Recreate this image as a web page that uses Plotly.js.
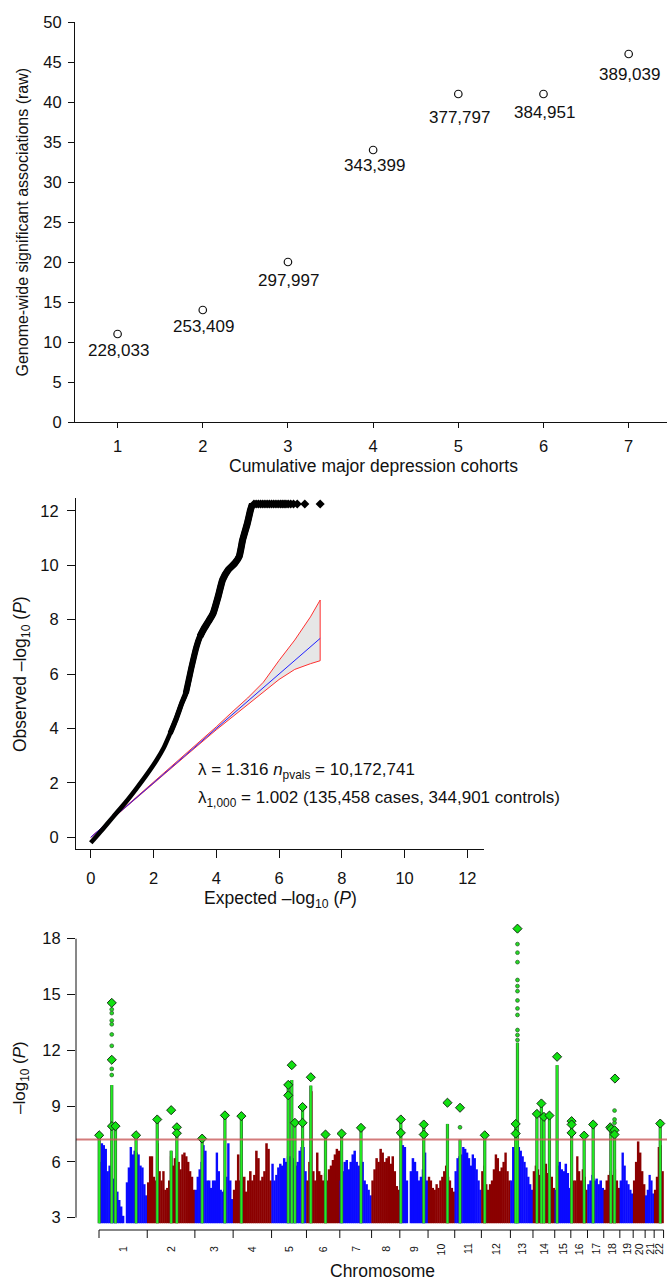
<!DOCTYPE html>
<html>
<head>
<meta charset="utf-8">
<script src="https://cdn.plot.ly/plotly-3.0.1.min.js"></script>
<style>html,body{margin:0;padding:0;background:#fff;overflow:hidden;}#chart{width:667px;height:1280px;}</style>
</head>
<body>
<div id="chart"></div>
<script>
// ---------- Panel 1: cumulative cohorts ----------
const cohorts = [1, 2, 3, 4, 5, 6, 7];
const associations = [11, 14, 20, 34, 41, 41, 46];
const sampleSizes = ['228,033', '253,409', '297,997', '343,399', '377,797', '384,951', '389,039'];

// ---------- Panel 2: QQ plot ----------
const qqExpected = [0, 0.36, 0.72, 1.1, 1.46, 1.8, 2.1, 2.33, 2.53, 2.72, 2.9, 3.03, 3.2, 3.37, 3.48, 3.6, 3.75, 3.9, 4.06, 4.2, 4.38, 4.59, 4.73, 4.84, 4.99, 5.09, 5.15];
const qqObserved = [-0.2, 0.27, 0.76, 1.27, 1.8, 2.33, 2.84, 3.3, 3.82, 4.35, 4.93, 5.3, 6.2, 7.01, 7.38, 7.65, 7.93, 8.23, 8.85, 9.46, 9.83, 10.07, 10.32, 10.93, 11.54, 12.03, 12.25];
const qqCappedExpected = [5.2, 5.27, 5.34, 5.41, 5.48, 5.55, 5.62, 5.69, 5.76, 5.83, 5.9, 5.97, 6.04, 6.1, 6.16, 6.22, 6.29, 6.37, 6.46, 6.58, 6.82, 7.31];
const qqCappedObserved = [12.25, 12.25, 12.25, 12.25, 12.25, 12.25, 12.25, 12.25, 12.25, 12.25, 12.25, 12.25, 12.25, 12.25, 12.25, 12.25, 12.25, 12.25, 12.25, 12.25, 12.25, 12.25];
const nullLine = [0, 7.31];
const bandExpected = [0, 1, 2, 3, 4, 4.5, 5, 5.5, 6, 6.5, 7, 7.31];
const bandUpper = [0, 1.01, 2.02, 3.03, 4.06, 4.6, 5.12, 5.7, 6.5, 7.25, 8.1, 8.72];
const bandLower = [0, 0.99, 1.98, 2.97, 3.95, 4.42, 4.87, 5.33, 5.8, 6.17, 6.38, 6.49];

// ---------- Panel 3: Manhattan plot ----------
const chrNames = ['1','2','3','4','5','6','7','8','9','10','11','12','13','14','15','16','17','18','19','20','21','22'];
const chrLen = [246, 243, 195, 196, 178, 170, 162, 144, 144, 136, 136, 148, 115, 111, 82, 85, 83, 82, 68, 61, 46, 48];
const pointFloor = 2.7;
const genomeWideLine = 7.2;
const chr1Peaks = [6.0, 7.0, 6.9, 6.7, 5.5, 5.8, 5.3, 5.1, 4.9, 4.4, 3.95, 3.6, 3.1, null, 4.9, 5.7, 6.8, 6.4, 6.6, 6.5, 6.4, 5.8, 5.7, 4.8, 4.2];
const chr2Peaks = [4.9, 6.3, 6.3, 5.2, 5.0, 7.0, 5.5, 5.0, 5.5, 4.5, 4.6, 5.0, 6.3, 5.8, 6.2, 6.3, 6.0, 5.6, 6.4, 6.5, 6.3, 6.0, 5.5, 5.2, 4.5];
const chr3Peaks = [4.5, 5.2, 5.6, 6.0, 6.9, 6.6, 5.0, 5.0, 4.6, 5.0, 5.0, 6.5, 5.5, 4.5, 4.4, 4.5, 5.2, 7.0, 5.0, 4.0];
const chr4Peaks = [4.5, 5.0, 6.4, 5.0, 4.6, 5.2, 4.4, 5.0, 5.5, 5.0, 5.3, 6.6, 6.2, 5.0, 5.2, 5.5, 7.0, 6.7, 5.0];
const chr5Peaks = [5.9, 5.0, 5.3, 5.7, 5.9, 5.8, 6.2, 6.0, 6.3, 6.3, 5.5, 6.2, 5.8, 6.0, 6.6, 6.8, 6.8, 5.5];
const chr6Peaks = [5.0, 6.0, 9.8, 5.5, 5.0, 6.5, 5.5, 5.3, 5.0, 5.4, 5.0, 5.6, 5.8, 6.1, 6.4, 6.7, 6.6];
const chr7Peaks = [5.0, 5.5, 6.0, 6.1, 5.6, 6.0, 6.4, 6.6, 6.0, 5.8, 5.5, 6.0, 5.0, 4.8, 4.5, 4.2];
const chr8Peaks = [5.0, 5.6, 6.2, 6.0, 6.7, 6.5, 6.0, 6.2, 6.3, 5.9, 6.3, 5.5, 4.7, 4.5];
const chr9Peaks = [5.0, 6.9, 6.8, 5.0, null, 5.5, 6.2, 6.0, 5.5, 5.0, 5.2, 5.6, 6.5, 5.0];
const chr10Peaks = [5.2, 5.0, 4.6, 4.5, 4.8, 4.6, 5.0, 5.2, 5.5, 5.8, 5.2, 5.0, 4.6, 4.4];
const chr11Peaks = [5.5, 6.2, 6.3, 6.4, 6.8, 6.7, 6.5, 6.2, 5.8, 6.4, 6.2, 5.6, 5.0, 4.5];
const chr12Peaks = [5.5, 5.8, 4.8, 4.5, 4.8, 5.0, 5.6, 6.4, 6.2, 5.5, 5.7, 6.0, 6.5, 5.5, 5.0];
const chr13Peaks = [5.0, 6.8, 6.6, 6.5, 6.8, 6.6, 6.3, 6.0, 5.7, 5.2, 4.8, 4.5];
const chr14Peaks = [5.5, 5.8, 5.6, 5.3, 5.5, 5.7, 5.9, 5.4, 5.0, 5.2, 4.6];
const chr15Peaks = [4.5, 5.8, 6.0, 5.6, 5.5, 5.9, 5.4, 4.6];
const chr16Peaks = [5.5, 5.0, 5.0, 6.3, 5.5, 5.0, 5.6, 5.2, 4.5];
const chr17Peaks = [4.8, 5.0, 5.3, 5.0, 5.1, 4.8, 5.0, 4.6];
const chr18Peaks = [4.5, 5.0, 5.3, 5.5, 5.3, 5.6, 5.0, 4.6];
const chr19Peaks = [5.0, 6.5, 5.8, 5.0, 4.8, 4.5, 4.3];
const chr20Peaks = [5.0, 6.0, 7.1, 6.5, 5.5, 4.8];
const chr21Peaks = [4.2, 4.5, 5.3, 5.0, 4.3];
const chr22Peaks = [4.5, 5.2, 6.8, 6.9, 5.5];

// significant loci (green columns)
const hitChr = [1,1,1,1, 2,2,2, 3,3, 4, 5,5,5,5, 6,6, 7,7, 9,9, 10, 11, 12, 13,13, 14,14,14,14, 15, 16,16, 17, 18,18, 22];
const hitMb = [1,65,84,189, 51,122,151, 37,153, 42, 85,103,119,158, 22,97, 9,108, 5,122, 99, 27, 17, 27,36, 20,43,56,84, 12, 4,68, 29, 36,55, 31];
const hitTop = [7.43,10.13,7.92,7.43, 8.28,6.6,7.86, 7.25,8.5, 8.46, 10.1,10.4,8.1,8.95, 10.1,7.47, 7.52,7.83, 8.28,8.01, 8.04, 7.2, 7.43, 8.04,12.4, 8.58,9.14,8.42,8.49, 11.2, 8.19,7.41, 8.01, 7.86,7.7, 8.06];
// lead SNPs (diamonds)
const leadChr = [1,1,1,1,1,1, 2,2,2,2, 3,3, 4, 5,5,5,5,5,5, 6,6, 7,7, 9,9,9,9, 10, 11, 12, 13,13,13, 14,14,14,14, 15, 16,16,16,16, 17, 18,18,18,18,18, 22];
const leadMb = [1,65,65,66,84,189, 51,122,151,151, 37,153, 42, 85,85,103,119,158,158, 22,97, 9,108, 5,5,122,122, 99, 27, 17, 27,27,36, 20,43,56,84, 12, 4,4,4,68, 29, 33,38,55,55,57, 31];
const leadLogP = [7.43,14.55,11.49,7.92,7.92,7.43, 8.28,8.78,7.86,7.54, 7.25,8.5, 8.46, 10.14,9.58,11.2,8.1,8.95,8.1, 10.55,7.47, 7.52,7.83, 8.28,7.56,8.01,7.47, 9.18, 8.91, 7.43, 8.04,7.52,18.54, 8.58,9.14,8.42,8.49, 11.65, 8.19,8.01,7.56,7.41, 8.01, 7.86,7.77,7.7,7.47,10.48, 8.06];
// isolated significant SNPs above columns
const dotChr = [1,1,1,1,1,1,1,1, 13,13,13,13,13,13,13,13,13,13,13,13, 18,18,18, 11];
const dotMb = [65,65,65,65,65,65,65,65, 36,36,36,36,36,36,36,36,36,36,36,36, 55,55,55, 27];
const dotLogP = [10.67,11.0,12.24,12.85,13.4,13.6,14.0,14.2, 12.55,12.82,13.09,13.9,14.25,14.68,15.18,15.45,15.78,16.74,17.25,17.71, 8.1,8.28,8.76, 7.86];

// ---------- build ----------
const FONT = 'Liberation Sans, Arial, Helvetica, sans-serif';
const INK = '#111';
const W = 667, H = 1280;
const px = v => v / W;
const py = v => 1 - v / H;

const chrStart = [];
let acc = 0;
chrLen.forEach(l => { chrStart.push(acc); acc += l; });
const genomeEnd = acc;
const gpos = (c, mb) => chrStart[c - 1] + mb;

const chrPeaks = [chr1Peaks, chr2Peaks, chr3Peaks, chr4Peaks, chr5Peaks, chr6Peaks, chr7Peaks, chr8Peaks, chr9Peaks, chr10Peaks, chr11Peaks,
  chr12Peaks, chr13Peaks, chr14Peaks, chr15Peaks, chr16Peaks, chr17Peaks, chr18Peaks, chr19Peaks, chr20Peaks, chr21Peaks, chr22Peaks];
const BLUE = '#0a0aff', RED = '#8b0000';
const barX = [], barY = [], barW = [], barC = [];
chrPeaks.forEach((arr, c) => {
  const w = chrLen[c] / arr.length;
  arr.forEach((v, i) => {
    if (v == null) return;
    barX.push(chrStart[c] + (i + 0.5) * w);
    barY.push(v - pointFloor);
    barW.push(w * 1.25);
    barC.push(c % 2 === 0 ? BLUE : RED);
  });
});

const colX = [], colY = [];
hitChr.forEach((c, i) => {
  const x = gpos(c, hitMb[i]);
  colX.push(x, x, null);
  colY.push(pointFloor, hitTop[i], null);
});

const qqLine = (from, width) => ({type: 'scatter', mode: 'lines', x: qqExpected.slice(from), y: qqObserved.slice(from),
  line: {color: '#000', width: width, shape: 'spline', smoothing: 0.5}, xaxis: 'x2', yaxis: 'y2', hoverinfo: 'skip'});

const traces = [
  // panel 1
  {type: 'scatter', mode: 'markers', x: cohorts, y: associations,
   marker: {symbol: 'circle-open', size: 7.5, color: INK, line: {width: 1.2, color: INK}},
   xaxis: 'x', yaxis: 'y', hoverinfo: 'skip', cliponaxis: false},
  // panel 2
  {type: 'scatter', mode: 'lines', x: bandExpected.concat(bandExpected.slice().reverse()),
   y: bandUpper.concat(bandLower.slice().reverse()), fill: 'toself', fillcolor: '#e6e6e6',
   line: {color: '#ff3030', width: 1}, xaxis: 'x2', yaxis: 'y2', hoverinfo: 'skip'},
  {type: 'scatter', mode: 'lines', x: nullLine, y: nullLine, line: {color: '#2020ff', width: 1},
   xaxis: 'x2', yaxis: 'y2', hoverinfo: 'skip'},
  qqLine(0, 4.6),
  qqLine(8, 5.4),
  qqLine(11, 6.2),
  qqLine(14, 7),
  {type: 'scatter', mode: 'markers', x: qqCappedExpected, y: qqCappedObserved,
   marker: {symbol: 'diamond', size: 7, color: '#000'}, xaxis: 'x2', yaxis: 'y2', hoverinfo: 'skip', cliponaxis: false},
  // panel 3
  {type: 'bar', x: barX, y: barY, base: pointFloor, width: barW, marker: {color: barC, line: {width: 0}},
   xaxis: 'x3', yaxis: 'y3', hoverinfo: 'skip'},
  {type: 'scatter', mode: 'lines', x: colX, y: colY, line: {color: '#336633', width: 3.2},
   xaxis: 'x3', yaxis: 'y3', hoverinfo: 'skip', connectgaps: false},
  {type: 'scatter', mode: 'lines', x: colX, y: colY, line: {color: '#22ee22', width: 1.9},
   xaxis: 'x3', yaxis: 'y3', hoverinfo: 'skip', connectgaps: false},
  {type: 'scatter', mode: 'markers', x: dotChr.map((c, i) => gpos(c, dotMb[i])), y: dotLogP,
   marker: {symbol: 'circle', size: 3.8, color: '#22dd22', line: {color: '#336633', width: 0.8}},
   xaxis: 'x3', yaxis: 'y3', hoverinfo: 'skip'},
  {type: 'scatter', mode: 'markers', x: leadChr.map((c, i) => gpos(c, leadMb[i])), y: leadLogP,
   marker: {symbol: 'diamond', size: 7, color: '#11e011', line: {color: '#153015', width: 1}},
   xaxis: 'x3', yaxis: 'y3', hoverinfo: 'skip', cliponaxis: false}
];

const tickFont = {family: FONT, size: 16.5, color: INK};
const shapes = [];
shapes.push({type: 'line', xref: 'paper', yref: 'y3', x0: px(76), x1: 1, y0: genomeWideLine, y1: genomeWideLine,
  line: {color: 'rgba(200,90,90,0.8)', width: 2}, layer: 'above'});
shapes.push({type: 'line', xref: 'paper', yref: 'y3', x0: px(76), x1: px(76), y0: 3, y1: 18, line: {color: INK, width: 1}});
shapes.push({type: 'line', xref: 'x3', yref: 'paper', x0: 0, x1: genomeEnd, y0: py(1230), y1: py(1230), line: {color: INK, width: 1}});
chrStart.concat([genomeEnd]).forEach(b => {
  shapes.push({type: 'line', xref: 'x3', yref: 'paper', x0: b, x1: b, y0: py(1230), y1: py(1238), line: {color: INK, width: 1}});
});

const annotations = [];
const labelDrop = [16, 16, 18, 15.5, 23, 18.5, 20];
cohorts.forEach((c, i) => {
  annotations.push({text: sampleSizes[i], xref: 'x', yref: 'y', x: c, y: associations[i], yshift: -labelDrop[i], xshift: 1,
    showarrow: false, xanchor: 'center', yanchor: 'middle', font: {family: FONT, size: 17, color: INK}});
});
chrNames.forEach((n, i) => {
  annotations.push({text: n, xref: 'x3', yref: 'paper', x: chrStart[i] + chrLen[i] / 2, y: py(1249),
    textangle: -90, showarrow: false, xanchor: 'center', yanchor: 'middle', font: {family: FONT, size: 10.5, color: INK}});
});
const title = (text, x, y, angle, size) => ({text, xref: 'paper', yref: 'paper', x: px(x), y: py(y), showarrow: false,
  textangle: angle, xanchor: 'center', yanchor: 'middle', font: {family: FONT, size: size, color: INK}});
annotations.push(title('Cumulative major depression cohorts', 373, 465.5, 0, 17.5));
annotations.push(title('Genome-wide significant associations (raw)', 22, 222.5, -90, 16));
annotations.push(title('Expected –log<sub>10</sub> (<i>P</i>)', 280, 899, 0, 17.5));
annotations.push(title('Observed –log<sub>10</sub> (<i>P</i>)', 21, 674, -90, 17.5));
annotations.push(title('–log<sub>10</sub> (<i>P</i>)', 21, 1078, -90, 17));
annotations.push(title('Chromosome', 382.5, 1270.5, 0, 17.5));
annotations.push({text: 'λ = 1.316 <i>n</i><sub>pvals</sub> = 10,172,741', xref: 'paper', yref: 'paper', x: px(196), y: py(771),
  xanchor: 'left', yanchor: 'middle', showarrow: false, font: {family: FONT, size: 17, color: INK}});
annotations.push({text: 'λ<sub>1,000</sub> = 1.002 (135,458 cases, 344,901 controls)', xref: 'paper', yref: 'paper', x: px(196), y: py(799),
  xanchor: 'left', yanchor: 'middle', showarrow: false, font: {family: FONT, size: 17, color: INK}});

const baseAxis = {showgrid: false, zeroline: false, ticks: 'outside', tickcolor: INK, tickwidth: 1,
  linecolor: INK, linewidth: 1, tickfont: tickFont, fixedrange: true};

const layout = {
  width: W, height: H, margin: {l: 0, r: 0, t: 0, b: 0},
  paper_bgcolor: '#fff', plot_bgcolor: 'rgba(0,0,0,0)', showlegend: false,
  font: {family: FONT, color: INK},
  xaxis: Object.assign({}, baseAxis, {domain: [px(75), 1], range: [0.5, 7.45], tickvals: cohorts, ticklen: 5,
    showline: true, anchor: 'y', ticklabelstandoff: 4}),
  yaxis: Object.assign({}, baseAxis, {domain: [py(422), py(22)], range: [0, 50], dtick: 5, tick0: 0, ticklen: 6,
    showline: true, anchor: 'x', ticklabelstandoff: 3}),
  xaxis2: Object.assign({}, baseAxis, {domain: [px(76), px(484)], range: [-0.47, 12.53], dtick: 2, tick0: 0, ticklen: 8,
    showline: true, anchor: 'y2', ticklabelstandoff: 6}),
  yaxis2: Object.assign({}, baseAxis, {domain: [py(849), py(498)], range: [-0.43, 12.47], dtick: 2, tick0: 0, ticklen: 8,
    showline: true, anchor: 'x2', ticklabelstandoff: 5}),
  xaxis3: Object.assign({}, baseAxis, {domain: [px(76), 1], range: [(76 - 99) / 0.1961, (667 - 99) / 0.1961],
    showline: false, showticklabels: false, ticks: '', anchor: 'y3'}),
  yaxis3: Object.assign({}, baseAxis, {domain: [py(1225.1), py(920.1)], range: [2.6, 19], tickvals: [3, 6, 9, 12, 15, 18], ticklen: 8,
    showline: false, anchor: 'x3', ticklabelstandoff: 3}),
  shapes, annotations
};

Plotly.newPlot('chart', traces, layout, {displayModeBar: false, staticPlot: true});
</script>
</body>
</html>
